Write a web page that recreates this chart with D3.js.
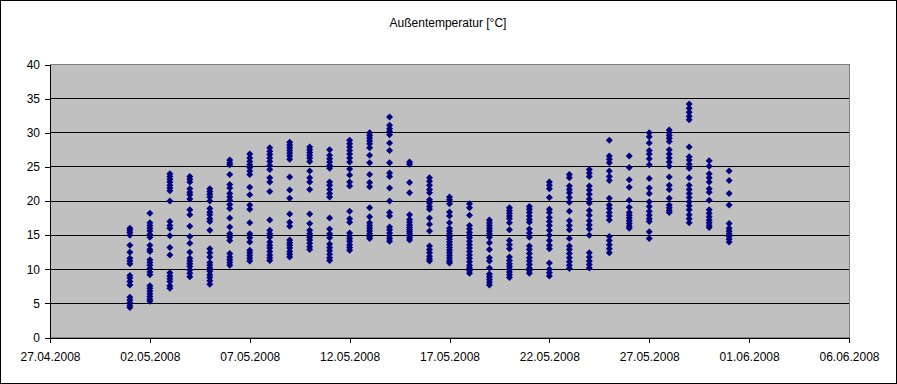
<!DOCTYPE html>
<html>
<head>
<meta charset="utf-8">
<script src="https://d3js.org/d3.v7.min.js"></script>
<style>
  body { margin: 0; background: #fff; }
  svg text { font-family: "Liberation Sans", Arial, sans-serif; font-size: 12px; fill: #000; }
  .axis path, .axis line { stroke: #000; shape-rendering: crispEdges; }
  .grid line { stroke: #000; shape-rendering: crispEdges; }
</style>
</head>
<body>
<div id="chart"></div>
<script>
const title = "Außentemperatur [°C]";

// one column of readings per day
const dates = [
  "01.05.2008", "02.05.2008", "03.05.2008", "04.05.2008", "05.05.2008", "06.05.2008",
  "07.05.2008", "08.05.2008", "09.05.2008", "10.05.2008", "11.05.2008", "12.05.2008",
  "13.05.2008", "14.05.2008", "15.05.2008", "16.05.2008", "17.05.2008", "18.05.2008",
  "19.05.2008", "20.05.2008", "21.05.2008", "22.05.2008", "23.05.2008", "24.05.2008",
  "25.05.2008", "26.05.2008", "27.05.2008", "28.05.2008", "29.05.2008", "30.05.2008",
  "31.05.2008"
];

const temps = [
  [16.0, 15.7, 15.4, 15.0, 13.5, 12.5, 11.6, 11.2, 10.8, 9.1, 8.7, 8.2, 7.7, 5.9, 5.5, 5.1, 4.7, 4.4],
  [18.2, 16.8, 16.4, 16.0, 15.6, 15.1, 14.7, 13.5, 12.9, 12.6, 11.4, 11.0, 10.6, 10.1, 9.6, 9.2, 7.6, 7.2, 6.8, 6.4, 6.0, 5.6, 5.3],
  [24.0, 23.6, 23.2, 22.8, 22.3, 21.9, 21.5, 20.0, 17.0, 16.4, 16.0, 14.9, 13.2, 12.1, 9.5, 9.0, 8.6, 8.2, 7.6, 7.2],
  [23.6, 23.2, 22.8, 21.8, 21.3, 20.9, 20.3, 18.7, 18.0, 16.3, 14.8, 13.8, 12.5, 11.6, 11.2, 10.8, 10.4, 9.9, 9.4, 8.9],
  [21.8, 21.4, 21.0, 20.6, 20.0, 18.9, 18.4, 18.0, 17.4, 17.0, 15.7, 13.0, 12.4, 11.8, 11.0, 10.6, 10.2, 9.7, 9.2, 8.8, 8.3, 7.8],
  [26.0, 25.6, 25.3, 23.9, 22.4, 21.9, 21.1, 20.6, 20.1, 19.5, 18.9, 17.5, 16.2, 15.2, 14.7, 14.2, 12.3, 11.8, 11.4, 11.0, 10.6],
  [26.9, 26.3, 25.8, 25.3, 24.9, 24.4, 23.9, 22.0, 20.9, 19.4, 18.8, 16.8, 15.2, 14.6, 14.0, 12.8, 12.4, 12.0, 11.6, 11.2],
  [27.8, 27.3, 26.8, 26.3, 25.8, 25.2, 24.6, 23.4, 22.8, 21.4, 17.2, 15.7, 15.2, 14.7, 14.0, 13.5, 13.1, 12.6, 12.1, 11.7, 11.3],
  [28.6, 28.2, 27.8, 27.4, 27.0, 26.6, 26.1, 23.5, 21.6, 20.4, 18.1, 16.9, 16.3, 14.3, 13.9, 13.5, 13.1, 12.6, 12.2, 11.8],
  [27.9, 27.5, 27.1, 26.7, 26.3, 25.8, 24.4, 23.4, 22.8, 21.7, 18.1, 16.7, 15.7, 15.2, 14.7, 14.3, 13.8, 13.3, 12.9],
  [27.5, 26.7, 26.2, 25.7, 25.2, 24.8, 22.8, 22.3, 21.7, 21.1, 20.6, 17.5, 15.9, 15.2, 14.6, 13.7, 13.2, 12.7, 12.2, 11.7, 11.3],
  [28.9, 28.4, 27.9, 27.4, 26.9, 26.3, 25.7, 24.7, 23.8, 22.8, 22.2, 18.5, 17.4, 16.9, 15.3, 14.9, 14.5, 14.1, 13.6, 13.2, 12.8],
  [30.0, 29.6, 29.2, 28.8, 28.4, 27.8, 26.7, 25.6, 23.9, 22.7, 22.1, 19.0, 17.7, 16.8, 16.4, 16.0, 15.6, 15.2, 14.8, 14.5],
  [32.3, 31.1, 30.6, 30.2, 29.7, 28.5, 27.4, 25.6, 24.1, 23.6, 21.9, 20.0, 18.3, 17.8, 16.2, 15.8, 15.3, 14.9, 14.5, 14.1],
  [25.7, 25.4, 22.7, 21.2, 18.0, 17.3, 16.9, 16.5, 16.1, 15.8, 15.5, 15.2, 14.9, 14.6, 14.3],
  [23.4, 22.9, 22.3, 21.7, 21.2, 20.2, 19.7, 19.2, 18.8, 17.5, 16.6, 15.6, 13.4, 12.9, 12.4, 11.9, 11.5, 11.2],
  [20.6, 20.2, 19.6, 18.4, 17.8, 16.8, 16.0, 15.6, 15.2, 14.8, 14.4, 14.0, 13.6, 13.2, 12.8, 12.4, 12.0, 11.6, 11.2, 10.9],
  [19.6, 19.0, 17.9, 16.4, 15.9, 15.4, 15.0, 14.6, 14.1, 13.6, 13.1, 12.6, 12.1, 11.6, 11.1, 10.6, 10.2, 9.8, 9.4],
  [17.2, 16.8, 16.4, 16.0, 15.6, 15.2, 14.7, 13.9, 12.9, 11.7, 11.2, 10.2, 9.3, 8.9, 8.5, 8.1, 7.7],
  [19.0, 18.6, 18.2, 17.8, 17.4, 16.8, 15.8, 14.2, 13.6, 13.0, 11.8, 11.3, 10.8, 10.4, 10.0, 9.6, 9.2, 8.8],
  [19.2, 18.8, 18.3, 17.8, 17.3, 16.9, 15.9, 15.3, 14.7, 13.4, 12.9, 12.3, 11.7, 11.2, 10.7, 10.2, 9.8, 9.4],
  [22.8, 22.3, 21.8, 20.5, 18.8, 18.3, 17.6, 17.0, 16.4, 15.7, 15.0, 14.2, 13.5, 13.0, 10.9, 10.0, 9.5, 9.0],
  [23.9, 23.4, 22.2, 21.7, 21.2, 20.5, 19.8, 18.5, 17.1, 16.4, 15.8, 14.5, 13.4, 12.9, 12.3, 11.7, 11.1, 10.6, 10.1],
  [24.6, 24.1, 23.6, 22.2, 21.6, 21.0, 20.3, 19.7, 18.6, 17.9, 17.1, 16.5, 15.9, 15.0, 12.4, 11.8, 11.2, 10.7, 10.2],
  [28.9, 26.6, 26.1, 25.6, 24.4, 23.6, 23.0, 20.4, 19.4, 18.9, 18.3, 17.8, 17.2, 14.8, 14.2, 13.6, 13.0, 12.4],
  [26.6, 24.9, 23.1, 22.0, 20.1, 19.1, 18.3, 17.9, 17.5, 17.1, 16.7, 16.3, 16.0],
  [30.0, 29.4, 28.5, 27.4, 26.9, 26.2, 25.3, 23.3, 21.9, 21.1, 19.9, 19.2, 18.5, 17.9, 17.4, 17.0, 15.5, 14.5],
  [30.4, 30.0, 29.6, 29.2, 28.7, 27.5, 26.9, 26.3, 25.7, 25.1, 23.5, 22.3, 21.7, 20.4, 19.4, 19.0, 18.6, 18.3],
  [34.2, 33.6, 33.0, 32.4, 31.9, 27.9, 26.5, 26.0, 25.4, 24.8, 23.4, 22.3, 21.7, 21.1, 20.5, 19.9, 19.3, 18.7, 18.0, 17.4, 16.8],
  [25.9, 25.1, 24.0, 23.4, 22.8, 21.8, 21.3, 20.1, 18.7, 18.2, 17.7, 17.2, 16.8, 16.4, 16.1],
  [24.4, 23.0, 21.1, 19.4, 16.7, 16.0, 15.6, 15.2, 14.8, 14.4, 14.0]
];

const xTicks = ["27.04.2008", "02.05.2008", "07.05.2008", "12.05.2008", "17.05.2008",
                "22.05.2008", "27.05.2008", "01.06.2008", "06.06.2008"];
const yTicks = [0, 5, 10, 15, 20, 25, 30, 35, 40];

const parse = d3.timeParse("%d.%m.%Y");
const fmt = d3.timeFormat("%d.%m.%Y");

const points = [];
dates.forEach((d, i) => temps[i].forEach(v => points.push({ date: parse(d), value: v })));

const width = 897, height = 384;
const plot = { left: 50, right: 849, top: 64.5, bottom: 337.5 };

const svg = d3.select("#chart").append("svg")
  .attr("width", width)
  .attr("height", height);

// outer frame
svg.append("rect")
  .attr("x", 0.5).attr("y", 0.5)
  .attr("width", width - 1).attr("height", height - 1)
  .attr("fill", "#fff").attr("stroke", "#000");

const x = d3.scaleTime()
  .domain([parse(xTicks[0]), parse(xTicks[xTicks.length - 1])])
  .range([plot.left, plot.right]);

const y = d3.scaleLinear()
  .domain([0, 40])
  .range([plot.bottom, plot.top]);

// plot area
svg.append("rect")
  .attr("x", plot.left).attr("y", plot.top)
  .attr("width", plot.right - plot.left).attr("height", plot.bottom - plot.top)
  .attr("fill", "#c0c0c0")
  .attr("stroke", "#808080")
  .attr("shape-rendering", "crispEdges");

svg.append("g")
  .attr("class", "grid")
  .selectAll("line")
  .data(yTicks.filter(t => t > 0 && t < 40))
  .enter().append("line")
  .attr("x1", plot.left).attr("x2", plot.right)
  .attr("y1", d => y(d)).attr("y2", d => y(d));

svg.append("g")
  .attr("class", "axis")
  .attr("transform", `translate(${plot.left},0)`)
  .call(d3.axisLeft(y).tickValues(yTicks).tickSize(5).tickSizeOuter(0).tickPadding(5))
  .call(g => g.selectAll("text").attr("font-size", null));

svg.append("g")
  .attr("class", "axis")
  .attr("transform", `translate(0,${plot.bottom})`)
  .call(d3.axisBottom(x).tickValues(xTicks.map(parse)).tickFormat(fmt)
    .tickSize(5).tickSizeOuter(0).tickPadding(10))
  .call(g => g.selectAll("text").attr("font-size", null));

svg.selectAll("g.axis").attr("font-family", null);

// markers
const r = 3.5;
svg.append("g")
  .selectAll("path")
  .data(points)
  .enter().append("path")
  .attr("transform", d => `translate(${x(d.date)},${y(d.value)})`)
  .attr("d", `M0,${-r}L${r},0L0,${r}L${-r},0Z`)
  .attr("fill", "#000080");

svg.append("text")
  .attr("x", 448).attr("y", 27)
  .attr("text-anchor", "middle")
  .text(title);
</script>
</body>
</html>
